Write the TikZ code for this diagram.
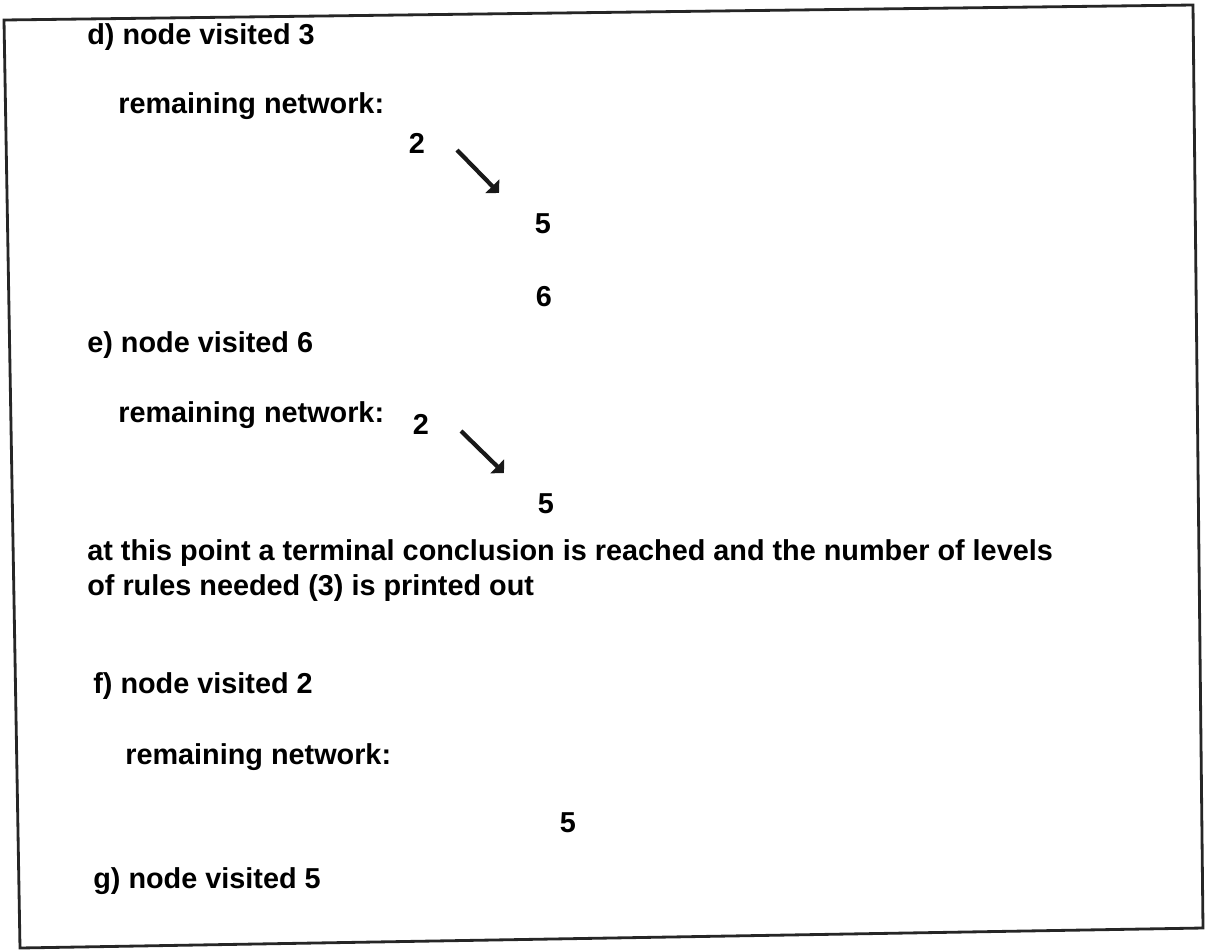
\documentclass[tikz,border=0pt]{standalone}
\usepackage{fontspec}
\setmainfont{Liberation Sans}
\usepackage{tikz}
\usetikzlibrary{arrows.meta,positioning}

\begin{document}
\begin{tikzpicture}[x=0.02cm, y=-0.02cm,
    every node/.style={font=\fontsize{16.4}{19}\selectfont\bfseries, inner sep=0pt},
    line/.style={anchor=west},
    num/.style={anchor=center},
    arr/.style={-{Triangle[length=1.9mm, width=3.8mm]}, line width=2.4pt, black!90},
    frame/.style={line width=1.6pt, black!85}
  ]
  \useasboundingbox (0,0) rectangle (1205,951);
  % page frame
  \draw[frame] (4,20) -- (1193,5) -- (1203,928) -- (20,948) -- cycle;

  % step d
  \node[line] (dhead) at (87,37)  {d) node visited 3};
  \node[line] (drem)  at (118,106) {remaining network:};
  \node[num]  (d2)    at (417,143) {2};
  \node[num]  (d5)    at (543,224) {5};
  \node[num]  (d6)    at (544,297) {6};
  \coordinate (da) at (457,150);
  \coordinate (db) at (499,193);
  \draw[arr] (da) -- (db);

  % step e
  \node[line] (ehead) at (87,345)  {e) node visited 6};
  \node[line] (erem)  at (118,415) {remaining network:};
  \node[num]  (e2)    at (421,424) {2};
  \node[num]  (e5)    at (546,504) {5};
  \coordinate (ea) at (461,431);
  \coordinate (eb) at (504,473);
  \draw[arr] (ea) -- (eb);

  \node[line] (note1) at (87,553) {at this point a terminal conclusion is reached and the number of levels};
  \node[line] (note2) at (87,588) {of rules needed (3) is printed out};

  % step f
  \node[line] (fhead) at (93,686)  {f) node visited 2};
  \node[line] (frem)  at (125,757) {remaining network:};
  \node[num]  (f5)    at (568,823) {5};

  % step g
  \node[line] (ghead) at (93,881) {g) node visited 5};
\end{tikzpicture}
\end{document}
